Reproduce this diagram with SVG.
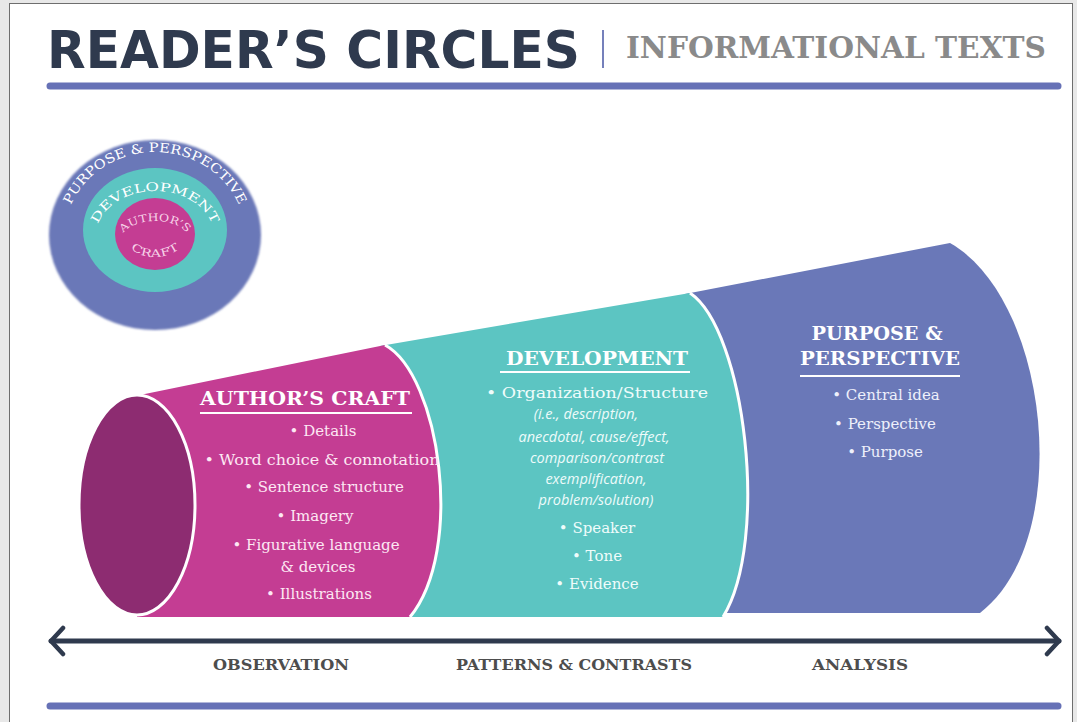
<svg xmlns="http://www.w3.org/2000/svg" width="1077" height="722" viewBox="0 0 1077 722">
  <style>
    .title { font-family: "DejaVu Sans", "Liberation Sans", sans-serif; font-weight: bold; fill: #2f3a4e; }
    .subtitle { font-family: "DejaVu Serif", "Liberation Serif", serif; font-weight: bold; fill: #8a8a8a; }
    .rule { stroke: #6671b6; stroke-width: 7; stroke-linecap: round; fill: none; }
    .head { font-family: "DejaVu Serif", "Liberation Serif", serif; font-weight: bold; font-size: 18px; fill: #ffffff; text-anchor: middle; }
    .item { font-family: "DejaVu Serif", "Liberation Serif", serif; font-size: 15px; text-anchor: middle; }
    .ital { font-family: "Open Sans", "Noto Sans", sans-serif; font-style: italic; font-size: 14.5px; text-anchor: middle; fill: #eefbfa; }
    .mag { fill: #fde8f3; }
    .teal { fill: #effcfb; }
    .purp { fill: #eef0fb; }
    .uline { stroke: #ffffff; stroke-width: 2; }
    .sep { fill: none; stroke: #ffffff; stroke-width: 3; }
    .axis { font-family: "DejaVu Serif", "Liberation Serif", serif; font-weight: bold; font-size: 15px; fill: #4d4d4d; text-anchor: middle; }
    .ring { font-family: "DejaVu Serif", "Liberation Serif", serif; fill: #ffffff; }
    .arrow { stroke: #2f3a4e; stroke-width: 5; stroke-linecap: round; fill: none; }
  </style>
  <defs>
    <marker id="chev" viewBox="0 0 18 32" markerUnits="userSpaceOnUse" markerWidth="18" markerHeight="32" refX="15" refY="16" orient="auto-start-reverse">
      <path d="M3,3 L15,16 L3,29" fill="none" stroke="#2f3a4e" stroke-width="4.5" stroke-linecap="round" stroke-linejoin="round"/>
    </marker>
    <filter id="soft" x="-10%" y="-10%" width="120%" height="120%">
      <feGaussianBlur stdDeviation="1.2"/>
    </filter>
    <!-- baselines for the curved ring labels -->
    <path id="arcOuter" d="M64,238 A91,86 0 0 1 246,238"/>
    <path id="arcMid" d="M96,236 A59,45 0 0 1 214,236"/>
    <path id="arcTop" d="M121,240 A34,19 0 0 1 189,240"/>
    <path id="arcBot" d="M123,233 A32,24 0 0 0 187,233"/>
  </defs>

  <!-- page -->
  <rect x="0" y="0" width="1077" height="722" fill="#e8e8e8"/>
  <rect x="9.5" y="3.5" width="1063" height="740" fill="#ffffff" stroke="#6e6e6e" stroke-width="1"/>

  <!-- header -->
  <g id="header">
    <text class="title" x="47" y="68" font-size="52" textLength="533" lengthAdjust="spacingAndGlyphs">READER’S CIRCLES</text>
    <line x1="603" y1="30" x2="603" y2="68" stroke="#7580bb" stroke-width="2"/>
    <text class="subtitle" x="626" y="58" font-size="30" textLength="420" lengthAdjust="spacingAndGlyphs">INFORMATIONAL TEXTS</text>
    <line class="rule" x1="50" y1="86" x2="1058" y2="86"/>
  </g>

  <!-- concentric circles emblem -->
  <g id="emblem">
    <ellipse cx="155" cy="235" rx="106" ry="95" fill="#6a78b8" filter="url(#soft)"/>
    <ellipse cx="155" cy="230" rx="72" ry="62" fill="#5cc5c2"/>
    <ellipse cx="155" cy="234" rx="40" ry="36" fill="#c43d93"/>
    <text class="ring" font-size="13"><textPath href="#arcOuter" startOffset="50%" text-anchor="middle" textLength="210" lengthAdjust="spacingAndGlyphs">PURPOSE &amp; PERSPECTIVE</textPath></text>
    <text class="ring" font-size="12"><textPath href="#arcMid" startOffset="50%" text-anchor="middle" textLength="140" lengthAdjust="spacingAndGlyphs">DEVELOPMENT</textPath></text>
    <text class="ring" font-size="10.5"><textPath href="#arcTop" startOffset="50%" text-anchor="middle" textLength="70" lengthAdjust="spacingAndGlyphs" fill="#f7d3e8">AUTHOR’S</textPath></text>
    <text class="ring" font-size="10.5"><textPath href="#arcBot" startOffset="50%" text-anchor="middle" textLength="52" lengthAdjust="spacingAndGlyphs" fill="#f7d3e8">CRAFT</textPath></text>
  </g>

  <!-- purpose & perspective section -->
  <g id="purpose">
    <path d="M685,294 L950,243 C1050,300 1075,540 980,613 L700,613 Z" fill="#6a78b8"/>
    <text class="head" x="877" y="340" textLength="131" lengthAdjust="spacingAndGlyphs">PURPOSE &amp;</text>
    <text class="head" x="880" y="365" textLength="160" lengthAdjust="spacingAndGlyphs">PERSPECTIVE</text>
    <line class="uline" x1="800" y1="376" x2="960" y2="376"/>
    <text class="item purp" x="886" y="400">• Central idea</text>
    <text class="item purp" x="885" y="429">• Perspective</text>
    <text class="item purp" x="885" y="457">• Purpose</text>
  </g>

  <!-- development section -->
  <g id="development">
    <path d="M380,346 L690,293 C745,330 770,540 723,617 L400,617 Z" fill="#5cc5c2"/>
    <path class="sep" d="M690,293 C745,330 770,540 723,617"/>
    <text class="head" x="597" y="365" textLength="182" lengthAdjust="spacingAndGlyphs">DEVELOPMENT</text>
    <line class="uline" x1="500" y1="372" x2="690" y2="372"/>
    <text class="item teal" x="597" y="398" textLength="222" lengthAdjust="spacingAndGlyphs">• Organization/Structure</text>
    <text class="ital" x="586" y="419">(i.e., description,</text>
    <text class="ital" x="594" y="442">anecdotal, cause/effect,</text>
    <text class="ital" x="597" y="463">comparison/contrast</text>
    <text class="ital" x="596" y="484">exemplification,</text>
    <text class="ital" x="596" y="505">problem/solution)</text>
    <text class="item teal" x="597" y="533">• Speaker</text>
    <text class="item teal" x="597" y="561">• Tone</text>
    <text class="item teal" x="597" y="589">• Evidence</text>
  </g>

  <!-- author's craft section -->
  <g id="authors-craft">
    <path d="M140,395 L385,345 C440,375 465,550 410,617 L137,617 Z" fill="#c43d93"/>
    <path class="sep" d="M385,345 C440,375 465,550 410,617"/>
    <ellipse cx="137" cy="505" rx="58" ry="110" fill="#8d2c71" stroke="#ffffff" stroke-width="3"/>
    <text class="head" x="305" y="405" textLength="210" lengthAdjust="spacingAndGlyphs">AUTHOR’S CRAFT</text>
    <line class="uline" x1="200" y1="413" x2="412" y2="413"/>
    <text class="item mag" x="323" y="436">• Details</text>
    <text class="item mag" x="322" y="465" textLength="235" lengthAdjust="spacingAndGlyphs">• Word choice &amp; connotation</text>
    <text class="item mag" x="324" y="492">• Sentence structure</text>
    <text class="item mag" x="315" y="521">• Imagery</text>
    <text class="item mag" x="316" y="550">• Figurative language</text>
    <text class="item mag" x="318" y="572">&amp; devices</text>
    <text class="item mag" x="319" y="599">• Illustrations</text>
  </g>

  <!-- connectors: continuum arrow -->
  <g id="connectors">
    <line class="arrow" x1="51" y1="641" x2="1059" y2="641" marker-start="url(#chev)" marker-end="url(#chev)"/>
  </g>

  <g id="axis-labels">
    <text class="axis" x="281" y="670" textLength="136" lengthAdjust="spacingAndGlyphs">OBSERVATION</text>
    <text class="axis" x="574" y="670" textLength="236" lengthAdjust="spacingAndGlyphs">PATTERNS &amp; CONTRASTS</text>
    <text class="axis" x="860" y="670" textLength="96" lengthAdjust="spacingAndGlyphs">ANALYSIS</text>
  </g>

  <line class="rule" x1="50" y1="706" x2="1058" y2="706"/>
</svg>
